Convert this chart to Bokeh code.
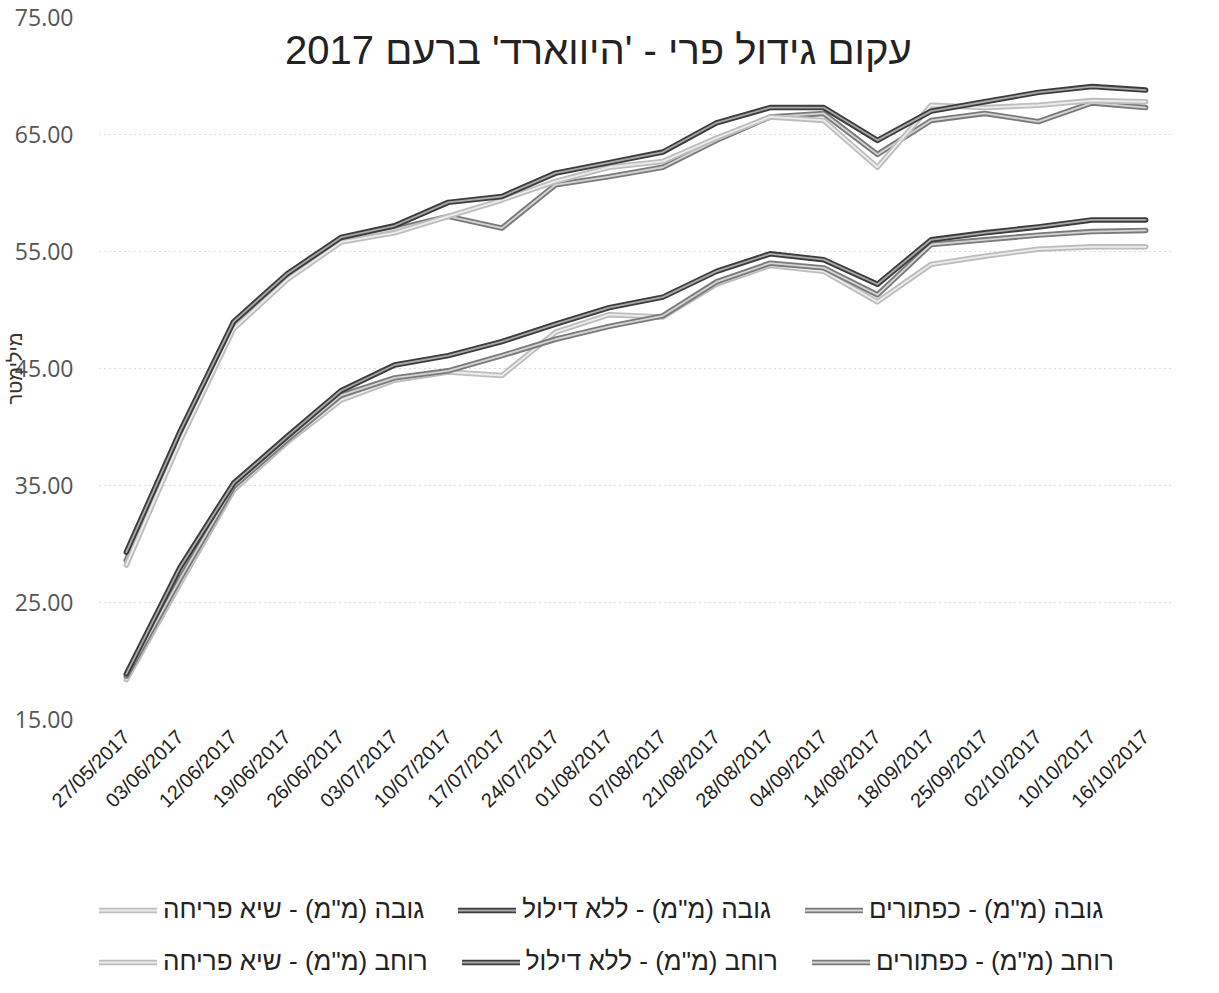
from bokeh.plotting import figure
from bokeh.layouts import column
from bokeh.models import (FactorRange, Range1d, FixedTicker, NumeralTickFormatter,
                          Legend, LegendItem, Label)
from bokeh.embed import file_html
from bokeh.resources import INLINE

dates = ["27/05/2017", "03/06/2017", "12/06/2017", "19/06/2017", "26/06/2017",
         "03/07/2017", "10/07/2017", "17/07/2017", "24/07/2017", "01/08/2017",
         "07/08/2017", "21/08/2017", "28/08/2017", "04/09/2017", "14/08/2017",
         "18/09/2017", "25/09/2017", "02/10/2017", "10/10/2017", "16/10/2017"]

height_buttons = [28.6, 39.2, 48.7, 52.9, 56.0, 56.9, 58.0, 57.0, 60.7, 61.4,
                  62.2, 64.5, 66.5, 66.8, 63.3, 66.2, 66.8, 66.1, 67.7, 67.3]
height_nothin = [29.3, 39.6, 49.0, 53.1, 56.2, 57.2, 59.2, 59.7, 61.7, 62.6,
                 63.5, 66.0, 67.3, 67.3, 64.5, 67.0, 67.8, 68.6, 69.1, 68.8]
height_bloom = [28.2, 38.8, 48.4, 52.6, 55.8, 56.6, 58.0, 59.4, 61.0, 62.2,
                62.7, 64.7, 66.5, 66.2, 62.2, 67.5, 67.3, 67.5, 67.9, 67.8]

width_buttons = [18.7, 27.0, 34.9, 38.9, 42.7, 44.2, 44.8, 46.1, 47.5, 48.6,
                 49.5, 52.4, 54.0, 53.6, 51.3, 55.6, 56.0, 56.4, 56.7, 56.8]
width_nothin = [18.9, 28.0, 35.2, 39.2, 43.1, 45.3, 46.1, 47.3, 48.8, 50.2,
                51.1, 53.3, 54.8, 54.3, 52.2, 56.0, 56.6, 57.1, 57.7, 57.7]
width_bloom = [18.4, 26.6, 34.6, 38.7, 42.3, 44.0, 44.7, 44.4, 48.1, 49.6,
               49.4, 52.2, 53.8, 53.3, 50.7, 53.9, 54.6, 55.2, 55.4, 55.4]

y_ticks = [15, 25, 35, 45, 55, 65, 75]

title_text = "עקום גידול פרי - 'היווארד' ברעם 2017"
y_label = "מילימטר"

labels = {
    "hb": 'גובה (מ"מ) - כפתורים',
    "hn": 'גובה (מ"מ) - ללא דילול',
    "hp": 'גובה (מ"מ) - שיא פריחה',
    "wb": 'רוחב (מ"מ) - כפתורים',
    "wn": 'רוחב (מ"מ) - ללא דילול',
    "wp": 'רוחב (מ"מ) - שיא פריחה',
}

styles = {
    "dark": ("#3c3c3c", "#a8a8a8"),
    "mid": ("#7a7a7a", "#d4d4d4"),
    "light": ("#bdbdbd", "#ececec"),
}

FONT = "Liberation Sans"
TICK_FONT = "Open Sans"

p = figure(frame_width=1073, frame_height=702,
           x_range=FactorRange(factors=dates),
           y_range=Range1d(15, 75),
           output_backend="svg", toolbar_location=None,
           min_border_left=99, min_border_right=28,
           min_border_top=17, min_border_bottom=112)
p.outline_line_color = None
p.background_fill_color = "white"
p.border_fill_color = "white"

p.xgrid.grid_line_color = None
p.ygrid.grid_line_color = "#b5b5b5"
p.ygrid.grid_line_dash = "1 4"
p.ygrid.grid_line_width = 1
p.yaxis.ticker = FixedTicker(ticks=y_ticks)
p.yaxis.formatter = NumeralTickFormatter(format="0.00")

for ax in (p.xaxis[0], p.yaxis[0]):
    ax.axis_line_color = None
    ax.major_tick_line_color = None
    ax.minor_tick_line_color = None

p.yaxis.major_label_text_font = TICK_FONT
p.yaxis.major_label_text_font_size = "23px"
p.yaxis.major_label_text_color = "#555555"
p.yaxis.major_label_standoff = 20
p.yaxis.axis_label = y_label
p.yaxis.axis_label_text_font = FONT
p.yaxis.axis_label_text_font_style = "normal"
p.yaxis.axis_label_text_font_size = "20px"
p.yaxis.axis_label_text_color = "#333333"
p.yaxis.axis_label_standoff = -14

p.xaxis.major_label_text_font = FONT
p.xaxis.major_label_orientation = 0.78
p.xaxis.major_label_text_font_size = "20px"
p.xaxis.major_label_text_color = "#222222"
p.xaxis.major_label_standoff = 8


def draw(fig, values, style):
    outer, inner = styles[style]
    r1 = fig.line(dates, values, line_color=outer, line_width=5.5,
                  line_join="round", line_cap="round")
    r2 = fig.line(dates, values, line_color=inner, line_width=1.8,
                  line_join="round", line_cap="round")
    return [r1, r2]


series = [
    ("hb", height_buttons, "mid"),
    ("hp", height_bloom, "light"),
    ("hn", height_nothin, "dark"),
    ("wp", width_bloom, "light"),
    ("wb", width_buttons, "mid"),
    ("wn", width_nothin, "dark"),
]
for key, vals, st in series:
    draw(p, vals, st)

p.add_layout(Label(x=9.3, y=72.2, text=title_text, text_align="center",
                   text_baseline="middle", text_font=FONT,
                   text_font_size="40px", text_color="#222222"))

# Legend panel: a second figure whose view excludes the data, holding the legend
q = figure(width=1200, height=146,
           x_range=FactorRange(factors=dates), y_range=Range1d(100, 101),
           output_backend="svg", toolbar_location=None,
           min_border_left=0, min_border_right=0,
           min_border_top=0, min_border_bottom=0)
q.axis.visible = False
q.grid.visible = False
q.outline_line_color = None
q.background_fill_color = "white"
q.border_fill_color = "white"

lr = {}
for key, vals, st in series:
    lr[key] = draw(q, vals, st)


def make_legend(keys, loc):
    items = [LegendItem(label=labels[k], renderers=lr[k]) for k in keys]
    return Legend(items=items, orientation="horizontal", location=loc,
                  label_text_font=FONT, label_text_font_size="26px",
                  label_text_color="#222222", glyph_width=58, glyph_height=20,
                  label_height=20, label_standoff=6, spacing=34,
                  border_line_color=None, background_fill_alpha=0,
                  padding=0, margin=0)


q.add_layout(make_legend(["hp", "hn", "hb"], (0, 52)), "center")
q.add_layout(make_legend(["wp", "wn", "wb"], (0, 0)), "center")

layout = column(p, q, spacing=0)
open("out.html", "w").write(file_html(layout, INLINE))
